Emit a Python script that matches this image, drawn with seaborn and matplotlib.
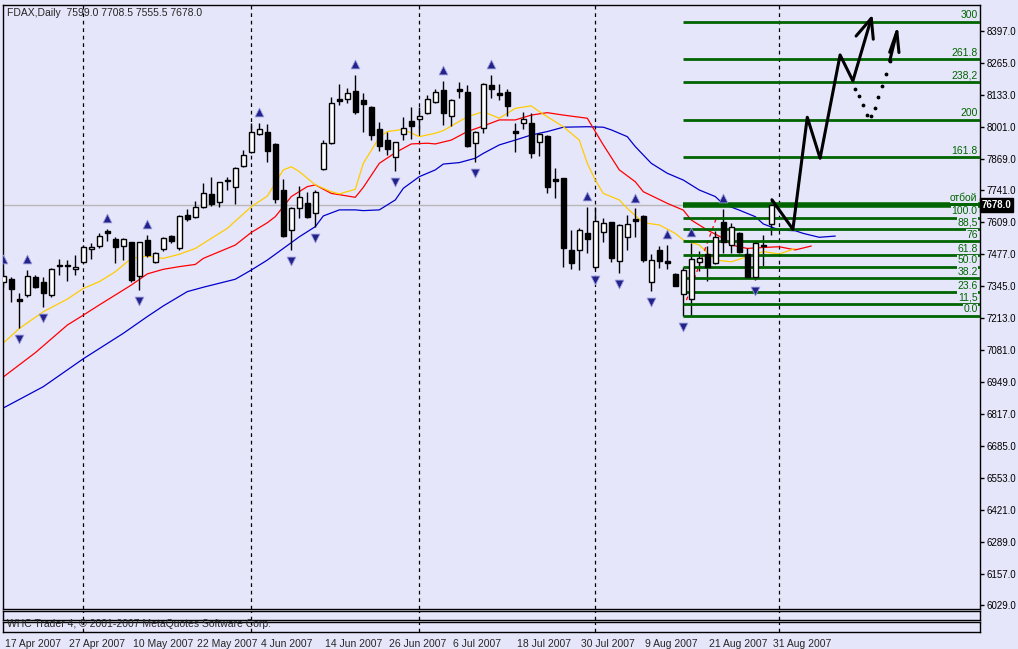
import seaborn as sns
import matplotlib.pyplot as plt
import matplotlib.transforms as mt
import pandas as pd

sns.set_theme(style="white")
plt.rcParams['font.family'] = ['Liberation Sans', 'DejaVu Sans']

# daily FDAX candles (bar 0 = 17 Apr 2007)
opens = [7363, 7373, 7290, 7307, 7384, 7360, 7308, 7427, 7428, 7416,
         7443, 7496, 7511, 7573, 7540, 7511, 7525, 7386, 7535, 7445,
         7496, 7551, 7500, 7636, 7631, 7670, 7725, 7690, 7782, 7752,
         7841, 7899, 7971, 7979, 7931, 7740, 7575, 7665, 7687, 7645,
         7826, 7936, 8115, 8118, 8151, 8112, 8082, 7993, 7947, 7876,
         7971, 8024, 8035, 8057, 8105, 8154, 8045, 8158, 8145, 7936,
         7995, 8173, 8142, 8146, 7983, 8016, 8016, 7938, 7965, 7785,
         7789, 7494, 7494, 7562, 7425, 7569, 7608, 7448, 7546, 7620,
         7634, 7363, 7494, 7446, 7395, 7312, 7291, 7445, 7477, 7439,
         7608, 7514, 7565, 7477, 7384, 7513, 7599]
highs = [7411, 7384, 7315, 7411, 7390, 7384, 7418, 7455, 7452, 7471,
         7514, 7521, 7562, 7579, 7546, 7544, 7528, 7528, 7555, 7487,
         7546, 7555, 7638, 7661, 7696, 7771, 7793, 7775, 7796, 7835,
         7906, 8019, 8016, 8013, 7934, 7785, 7672, 7758, 7734, 7741,
         7947, 8123, 8178, 8160, 8215, 8140, 8088, 8023, 7982, 7940,
         8041, 8085, 8082, 8133, 8156, 8192, 8116, 8188, 8174, 7984,
         8184, 8215, 8180, 8156, 8019, 8063, 8057, 7978, 7968, 7833,
         7792, 7576, 7586, 7672, 7670, 7624, 7610, 7599, 7638, 7665,
         7638, 7476, 7510, 7514, 7398, 7425, 7521, 7491, 7510, 7573,
         7661, 7604, 7569, 7500, 7532, 7555, 7708.5]
lows = [7342, 7280, 7170, 7301, 7335, 7260, 7301, 7390, 7367, 7390,
        7439, 7455, 7500, 7532, 7439, 7452, 7363, 7328, 7466, 7439,
        7491, 7521, 7494, 7615, 7624, 7665, 7675, 7670, 7741, 7683,
        7837, 7895, 7968, 7855, 7689, 7548, 7494, 7624, 7624, 7590,
        7823, 7931, 8092, 8099, 8055, 7982, 7947, 7903, 7885, 7821,
        7947, 7950, 7975, 8053, 8101, 8009, 8005, 8119, 7920, 7858,
        7975, 8119, 8112, 8046, 7899, 7991, 7872, 7883, 7730, 7707,
        7425, 7414, 7411, 7480, 7414, 7528, 7445, 7397, 7494, 7548,
        7445, 7326, 7418, 7414, 7345, 7223, 7221, 7408, 7367, 7434,
        7480, 7480, 7480, 7377, 7370, 7428, 7555.5]
closes = [7386, 7331, 7285, 7386, 7342, 7317, 7414, 7430, 7426, 7420,
          7505, 7507, 7551, 7565, 7505, 7539, 7370, 7525, 7473, 7483,
          7542, 7529, 7635, 7620, 7670, 7727, 7682, 7773, 7778, 7830,
          7885, 7979, 7991, 7903, 7704, 7551, 7667, 7711, 7631, 7731,
          7934, 8099, 8110, 8140, 8064, 8094, 7969, 7924, 7910, 7939,
          7995, 8006, 8046, 8116, 8144, 8057, 8112, 8149, 7924, 7982,
          8177, 8156, 8133, 8088, 7978, 8034, 7895, 7971, 7755, 7780,
          7500, 7439, 7576, 7540, 7612, 7604, 7459, 7595, 7599, 7615,
          7452, 7452, 7450, 7441, 7346, 7411, 7456, 7459, 7422, 7546,
          7528, 7587, 7487, 7384, 7521, 7509, 7678]

# moving averages (bar, price)
ma_yellow_bar = [0, 2, 5, 8, 10, 12, 14, 16, 18, 20, 22, 24, 28, 31, 33, 35, 36, 37, 39, 41, 42,
                 44, 45, 47, 48, 50, 52, 54, 55, 58, 60, 62, 64, 66, 67, 70, 72, 73, 74, 75, 77,
                 78, 80, 82, 84, 85, 87, 89, 91, 93, 95, 97, 99]
ma_yellow = [7110, 7170, 7239, 7291, 7335, 7363, 7404, 7459, 7469, 7459, 7476, 7500, 7583, 7672, 7716,
             7824, 7837, 7817, 7762, 7734, 7725, 7744, 7851, 7958, 7982, 7991, 7961, 7975, 7986,
             8043, 8064, 8037, 8078, 8088, 8064, 8002, 7947, 7851, 7782, 7727, 7700, 7665, 7606,
             7597, 7562, 7535, 7514, 7452, 7445, 7466, 7487, 7477, 7500]
ma_red_bar = [0, 4, 8, 10, 12, 14, 16, 18, 20, 22, 24, 25, 29, 31, 33, 34, 36, 38, 39, 41, 44, 45,
              47, 49, 50, 51, 53, 54, 56, 58, 60, 62, 64, 66, 68, 70, 73, 74, 75, 77, 79, 80,
              83, 85, 86, 88, 90, 91, 93, 95, 97, 99, 101]
ma_red = [6970, 7070, 7184, 7225, 7267, 7308, 7349, 7395, 7414, 7425, 7434, 7459, 7514, 7566, 7606,
          7631, 7714, 7755, 7762, 7727, 7711, 7752, 7851, 7895, 7913, 7931, 7934, 7931, 7947, 7982,
          8005, 8030, 8030, 8050, 8060, 8050, 8037, 7982, 7927, 7824, 7775, 7734, 7686, 7658,
          7617, 7576, 7542, 7514, 7500, 7504, 7507, 7494, 7510]
ma_blue_bar = [0, 5, 10, 15, 18, 20, 23, 25, 29, 31, 33, 35, 37, 39, 40, 42, 44, 45, 47, 49, 50, 52,
               54, 55, 57, 59, 60, 62, 64, 66, 68, 70, 73, 75, 76, 78, 79, 81, 83, 85, 87, 89, 90,
               92, 94, 95, 97, 99, 100, 102, 104]
ma_blue = [6842, 6930, 7045, 7150, 7219, 7263, 7322, 7340, 7373, 7411, 7452, 7500, 7548, 7590,
           7634, 7659, 7659, 7656, 7659, 7700, 7748, 7796, 7824, 7848, 7854, 7872, 7892, 7927,
           7947, 7968, 7982, 8000, 8002, 8000, 7989, 7961, 7920, 7851, 7810, 7782, 7741, 7714,
           7683, 7658, 7631, 7601, 7576, 7573, 7562, 7546, 7551]

fractal_up = [0, 3, 13, 18, 32, 44, 55, 61, 73, 79, 83, 86, 90]
fractal_down = [2, 5, 17, 36, 39, 49, 59, 74, 77, 81, 85, 94]

fib_low, fib_high, fib_start = 7223, 7627, 85
fib_levels = [0.0, 11.5, 23.6, 38.2, 50.0, 61.8, 76, 88.5, 100.0, 161.8, 200, 238.2, 261.8, 300]
fib_texts = ["0.0", "11,5", "23.6", "38.2", "50.0", "61.8", "76", "88,5", "100.0",
             "161.8", "200", "238,2", "261.8", "300"]
rebound_price = 7678

# hand-drawn forecast arrows
zig_bar = [96.1, 98.7, 100.5, 102.1, 104.6, 106.2, 108.5]
zig_price = [7700, 7579, 8041, 7872, 8298, 8191, 8449]
head1_bar = [106.6, 108.5, 108.75]
head1_price = [8376, 8449, 8363]
dot_bar = [106.5, 107.0, 107.5, 108.0, 108.5, 109.0, 109.4, 109.9, 110.4, 110.8]
dot_price = [8156, 8128, 8092, 8052, 8046, 8080, 8125, 8171, 8220, 8273]
arrow2_bar = [110.8, 111.7]
arrow2_price = [8273, 8394]
head2_bar = [110.8, 111.7, 111.96]
head2_price = [8309, 8394, 8308]
red_dash_bar = [85.4, 89.2]
red_dash_price = [7287, 7631]

y_ticks = [8397, 8265, 8133, 8001, 7869, 7741, 7609, 7477, 7345, 7213, 7081, 6949,
           6817, 6685, 6553, 6421, 6289, 6157, 6029]
date_ticks = list(range(0, 97, 8))
date_labels = ["17 Apr 2007", "27 Apr 2007", "10 May 2007", "22 May 2007", "4 Jun 2007",
               "14 Jun 2007", "26 Jun 2007", "6 Jul 2007", "18 Jul 2007", "30 Jul 2007",
               "9 Aug 2007", "21 Aug 2007", "31 Aug 2007"]
separators = [10, 31, 52, 74, 97]

bg = '#E6E6FA'
green = '#006400'
fs = 7.5
W, H = 1018, 649
fig = plt.figure(figsize=(W / 100, H / 100), dpi=100, facecolor=bg)
ax = fig.add_axes([3 / W, (H - 609) / H, 977 / W, 604 / H], facecolor=bg)
ax1 = fig.add_axes([3 / W, (H - 620) / H, 977 / W, 9 / H], facecolor=bg)
ax2 = fig.add_axes([3 / W, (H - 632) / H, 977 / W, 10 / H], facecolor=bg)
xlim = (-0.04, 122.09)
for a in (ax, ax1, ax2):
    a.set_xlim(*xlim)
    for s in a.spines.values():
        s.set_color('black')
        s.set_linewidth(1)
    for b in separators:
        a.axvline(b, color='black', lw=0.9, ls=(0, (3, 3)), zorder=1)
ax.set_ylim(6013, 8504)
ax1.set_ylim(0, 1)
ax2.set_ylim(0, 1)
for a in (ax1, ax2):
    a.set_yticks([])
ax.set_xticks([])
ax1.set_xticks([])

df = pd.DataFrame({'bar': range(len(opens)), 'o': opens, 'h': highs, 'l': lows, 'c': closes})

ax.axhline(rebound_price, color='#B8B8B8', lw=1, zorder=1)

# moving averages
sns.lineplot(x=ma_blue_bar, y=ma_blue, ax=ax, color='#0000CC', lw=0.9, zorder=2)
sns.lineplot(x=ma_red_bar, y=ma_red, ax=ax, color='#FF0000', lw=0.9, zorder=2)
sns.lineplot(x=ma_yellow_bar, y=ma_yellow, ax=ax, color='#FFCC00', lw=0.9, zorder=2)
ax.plot(red_dash_bar, red_dash_price, color='#FF0000', lw=0.9, ls=(0, (3, 3)), zorder=2)

# candles
ax.vlines(df['bar'], df['l'], df['h'], color='black', lw=1, zorder=3)
body_lo = df[['o', 'c']].min(axis=1)
body_hi = df[['o', 'c']].max(axis=1)
fill = ['white' if c >= o else 'black' for o, c in zip(df['o'], df['c'])]
ax.bar(df['bar'], (body_hi - body_lo).clip(lower=6), bottom=body_lo, width=0.62,
       color=fill, edgecolor='black', lw=1, zorder=4)

# fractals
ax.scatter(fractal_up, [highs[i] + 45 for i in fractal_up], marker='^', s=40,
           color='#222288', edgecolor='#9999DD', lw=0.6, zorder=5)
ax.scatter(fractal_down, [lows[i] - 45 for i in fractal_down], marker='v', s=40,
           color='#222288', edgecolor='#9999DD', lw=0.6, zorder=5)

# fibonacci expansion
fib_end = xlim[1]
for lv, txt in zip(fib_levels, fib_texts):
    p = fib_low + (fib_high - fib_low) * lv / 100
    ax.hlines(p, fib_start, fib_end, color=green, lw=2, zorder=3)
    ax.text(fib_end - 0.3, p + 6, txt, color=green, fontsize=fs, ha='right', va='bottom', zorder=6,
            bbox=dict(boxstyle='square,pad=0.05', fc=bg, ec='none'))
ax.hlines(rebound_price, fib_start, fib_end, color=green, lw=4, zorder=3)
ax.text(fib_end - 0.3, rebound_price + 10, "отбой", color=green, fontsize=fs, ha='right',
        va='bottom', zorder=6, bbox=dict(boxstyle='square,pad=0.05', fc=bg, ec='none'))

# forecast arrows
ax.plot(zig_bar, zig_price, color='black', lw=2.2, zorder=7, solid_capstyle='round')
ax.plot(head1_bar, head1_price, color='black', lw=2.2, zorder=7)
ax.scatter(dot_bar, dot_price, color='black', s=3, zorder=7)
ax.plot(arrow2_bar, arrow2_price, color='black', lw=2.2, zorder=7)
ax.plot(head2_bar, head2_price, color='black', lw=2.2, zorder=7)

# price axis
ax.yaxis.tick_right()
ax.set_yticks(y_ticks)
ax.set_yticklabels([f"{v:.1f}" for v in y_ticks], fontsize=7)
ax.tick_params(axis='y', direction='out', length=3, width=1, color='black', pad=1.5, labelcolor='black')
ax.text(1.0015, (rebound_price - 6013) / (8504 - 6013), f"{rebound_price:.1f}", transform=ax.transAxes,
        fontsize=7, color='white', fontweight='bold', ha='left', va='center',
        bbox=dict(boxstyle='square,pad=0.2', fc='black', ec='black'), zorder=10, clip_on=False)

# date axis
ax2.set_xticks(date_ticks)
ax2.set_xticklabels(date_labels, fontsize=fs, ha='left')
ax2.tick_params(axis='x', direction='out', length=4, width=1, color='black', pad=1)
off = mt.ScaledTranslation(2 / 100, 0, fig.dpi_scale_trans)
for lab in ax2.get_xticklabels():
    lab.set_transform(lab.get_transform() + off)

fig.text(7 / W, 1 - 13 / H, "FDAX,Daily  7599.0 7708.5 7555.5 7678.0", fontsize=fs, va='center')
fig.text(7 / W, 1 - 624 / H, "WHC Trader 4, © 2001-2007 MetaQuotes Software Corp.", fontsize=fs,
         va='center')

fig.savefig("out.png", dpi=100, facecolor=bg)
